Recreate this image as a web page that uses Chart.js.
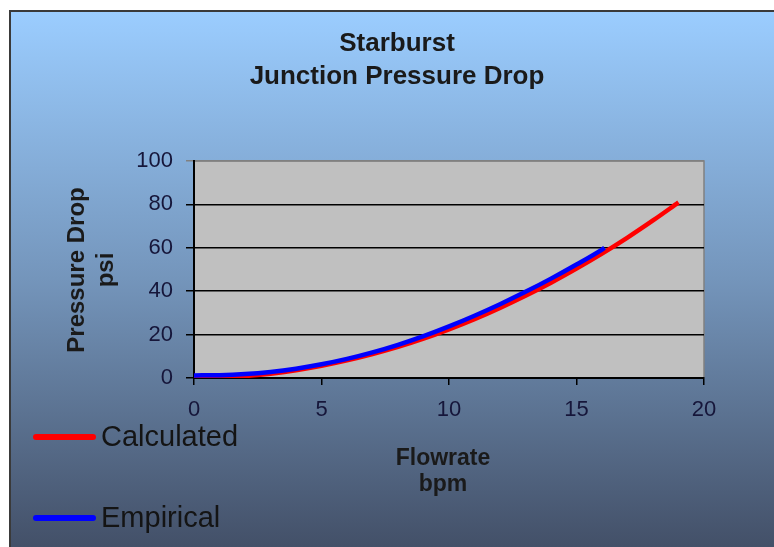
<!DOCTYPE html>
<html>
<head>
<meta charset="utf-8">
<script src="https://cdn.jsdelivr.net/npm/chart.js@4"></script>
<style>
  body { margin: 0; background: #fff; }
  canvas { display: block; }
</style>
</head>
<body>
<canvas id="chart" width="774" height="547"></canvas>
<script>
// values
const calcFlow = [0, 1, 2, 3, 4, 5, 6, 7, 8, 9, 10, 11, 12, 13, 14, 15, 16, 17, 18, 19];
const calcDrop = [0, 0.2, 0.9, 2.0, 3.6, 5.6, 8.1, 11.0, 14.3, 18.1, 22.4, 27.1, 32.3, 37.9, 43.9, 50.4, 57.3, 64.7, 72.6, 80.9];
const empFlow = [0, 1, 2, 3, 4, 5, 6, 7, 8, 9, 10, 11, 12, 13, 14, 15, 16, 16.1];
const empDrop = [1.2, 1.3, 1.8, 2.8, 4.3, 6.3, 8.8, 11.8, 15.3, 19.3, 23.8, 28.7, 34.0, 39.7, 45.8, 52.3, 59.2, 60.0];
const xTicks = [0, 5, 10, 15, 20];
const yTicks = [0, 20, 40, 60, 80, 100];

const toPoints = (xs, ys) => xs.map((x, i) => ({ x: x, y: ys[i] }));

const FONT = '"Liberation Sans", Arial, sans-serif';

// background, plot area, titles and legend
const decor = {
    id: 'decor',
    beforeDraw(chart) {
        const ctx = chart.ctx;
        const a = chart.chartArea;
        ctx.save();
        let g = ctx.createLinearGradient(0, 11, 0, 547);
        g.addColorStop(0, '#9bcdff');
        g.addColorStop(0.5, '#7495bb');
        g.addColorStop(1, '#435068');
        ctx.fillStyle = g;
        ctx.fillRect(10, 11, 764, 536);
        ctx.strokeStyle = '#3a3a3a';
        ctx.lineWidth = 2;
        ctx.beginPath();
        ctx.moveTo(10, 547);
        ctx.lineTo(10, 11);
        ctx.lineTo(774, 11);
        ctx.stroke();

        ctx.fillStyle = '#c0c0c0';
        ctx.fillRect(a.left, a.top, a.right - a.left, a.bottom - a.top);
        ctx.strokeStyle = '#808080';
        ctx.lineWidth = 1.5;
        ctx.beginPath();
        ctx.moveTo(a.left, a.top);
        ctx.lineTo(a.right, a.top);
        ctx.lineTo(a.right, a.bottom);
        ctx.stroke();
        ctx.restore();
    },
    afterDraw(chart) {
        const ctx = chart.ctx;
        ctx.save();
        ctx.fillStyle = '#1a1a1a';
        ctx.textAlign = 'center';
        ctx.textBaseline = 'alphabetic';
        ctx.font = 'bold 26px ' + FONT;
        ctx.fillText('Starburst', 397, 51);
        ctx.fillText('Junction Pressure Drop', 397, 84);

        ctx.font = 'bold 23px ' + FONT;
        ctx.fillText('Flowrate', 443, 465);
        ctx.fillText('bpm', 443, 491);

        ctx.save();
        ctx.translate(0, 270);
        ctx.rotate(-Math.PI / 2);
        ctx.font = 'bold 24px ' + FONT;
        ctx.textBaseline = 'middle';
        ctx.fillText('Pressure Drop', 0, 77);
        ctx.fillText('psi', 0, 106);
        ctx.restore();

        // legend
        const items = [
            { ds: chart.data.datasets[1], y: 437 },
            { ds: chart.data.datasets[0], y: 518 }
        ];
        ctx.textAlign = 'left';
        ctx.textBaseline = 'middle';
        ctx.font = '29px ' + FONT;
        items.forEach(it => {
            ctx.strokeStyle = it.ds.borderColor;
            ctx.lineWidth = 6;
            ctx.lineCap = 'round';
            ctx.beginPath();
            ctx.moveTo(36, it.y);
            ctx.lineTo(93, it.y);
            ctx.stroke();
            ctx.fillStyle = '#141414';
            ctx.fillText(it.ds.label, 101, it.y + 1);
        });
        ctx.restore();
    }
};

new Chart(document.getElementById('chart'), {
    type: 'line',
    data: {
        datasets: [
            {
                label: 'Empirical',
                data: toPoints(empFlow, empDrop),
                borderColor: '#0000ff',
                borderWidth: 4.5,
                pointRadius: 0,
                cubicInterpolationMode: 'monotone',
                order: 0
            },
            {
                label: 'Calculated',
                data: toPoints(calcFlow, calcDrop),
                borderColor: '#ff0000',
                borderWidth: 4.5,
                pointRadius: 0,
                cubicInterpolationMode: 'monotone',
                order: 1
            }
        ]
    },
    options: {
        responsive: false,
        animation: false,
        events: [],
        layout: { padding: { top: 161, right: 70, bottom: 0, left: 0 } },
        plugins: {
            legend: { display: false },
            title: { display: false },
            tooltip: { enabled: false }
        },
        scales: {
            x: {
                type: 'linear',
                min: 0,
                max: 20,
                afterFit: s => { s.height = 169; },
                afterBuildTicks: s => { s.ticks = xTicks.map(v => ({ value: v })); },
                grid: { drawOnChartArea: false, color: '#000', lineWidth: 1.5, tickLength: 7 },
                border: { color: '#000', width: 2 },
                ticks: { color: '#16163a', padding: 12, font: { family: FONT, size: 22 } }
            },
            y: {
                min: 0,
                max: 100,
                afterFit: s => { s.width = 194; },
                afterBuildTicks: s => { s.ticks = yTicks.map(v => ({ value: v })); },
                grid: {
                    color: c => (c.tick && c.tick.value === 100 ? '#808080' : '#000'),
                    lineWidth: 1.5,
                    tickLength: 8
                },
                border: { color: '#000', width: 2 },
                ticks: { color: '#16163a', padding: 13, font: { family: FONT, size: 22 } }
            }
        }
    },
    plugins: [decor]
});
</script>
</body>
</html>
